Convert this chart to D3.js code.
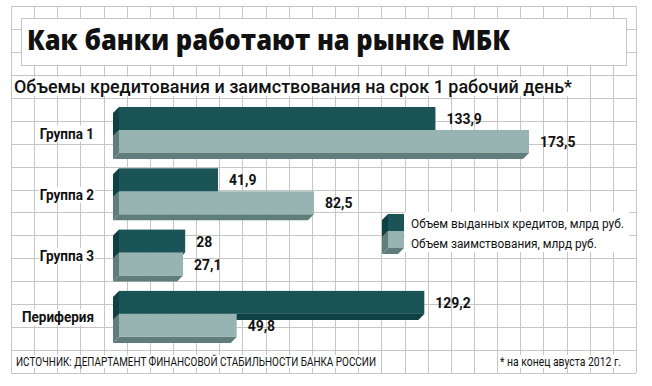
<!DOCTYPE html>
<html>
<head>
<meta charset="utf-8">
<script src="https://cdn.jsdelivr.net/npm/d3@7"></script>
<style>
  body { margin: 0; background: #fff; }
  text { font-family: Roboto, "Open Sans", sans-serif; fill: #111; }
</style>
</head>
<body>
<div id="chart"></div>
<script>
var categories = ["Группа 1", "Группа 2", "Группа 3", "Периферия"];
var issued = [133.9, 41.9, 28, 129.2];      // объем выданных кредитов
var borrowed = [173.5, 82.5, 27.1, 49.8];   // объем заимствования
var seriesNames = ["Объем выданных кредитов, млрд руб.", "Объем заимствования, млрд руб."];
var titleText = "Как банки работают на рынке МБК";
var subtitleText = "Объемы кредитования и заимствования на срок 1 рабочий день*";
var sourceText = "ИСТОЧНИК: ДЕПАРТАМЕНТ ФИНАНСОВОЙ СТАБИЛЬНОСТИ БАНКА РОССИИ";
var noteText = "* на конец авуста 2012 г.";

var width = 652, height = 386;
var colors = [
  {front: "#1a5457", side: "#0f4144"},
  {front: "#97b4b2", side: "#5f7d7b"}
];
var depth = 6, barH = 23;

var svg = d3.select("#chart").append("svg")
    .attr("width", width)
    .attr("height", height);

// grid paper background
var gx = d3.scaleLinear().domain([0, 27]).range([11, 636]);
var gy = d3.scaleLinear().domain([0, 16]).range([6, 373]);
var grid = svg.append("g").attr("stroke", "#c6c6c6").attr("stroke-width", 1);
grid.selectAll("line.v").data(d3.range(28)).enter().append("line")
    .attr("class", "v")
    .attr("x1", function(d){ return Math.round(gx(d)) + 0.5; })
    .attr("x2", function(d){ return Math.round(gx(d)) + 0.5; })
    .attr("y1", gy(0)).attr("y2", gy(16));
grid.selectAll("line.h").data(d3.range(17)).enter().append("line")
    .attr("class", "h")
    .attr("y1", function(d){ return Math.round(gy(d)) + 0.5; })
    .attr("y2", function(d){ return Math.round(gy(d)) + 0.5; })
    .attr("x1", gx(0)).attr("x2", gx(27));

// helpers
function condense(sel, f) {
  sel.each(function(){
    var w = this.getComputedTextLength();
    d3.select(this).attr("textLength", w * f).attr("lengthAdjust", "spacingAndGlyphs");
  });
}
function whiteBack(sel, px, py) {
  sel.each(function(){
    var b = this.getBBox();
    var node = this;
    d3.select(this.parentNode).insert("rect", function(){ return node; })
      .attr("x", b.x - px).attr("y", b.y - py)
      .attr("width", b.width + 2 * px).attr("height", b.height + 2 * py)
      .attr("fill", "#fff");
  });
}
function bar3d(g, x0, x1, y0, h, c) {
  g.append("path")
    .attr("d", "M" + x0 + "," + y0 + "L" + (x0 - depth) + "," + (y0 + depth) +
               "L" + (x0 - depth) + "," + (y0 + h + depth) + "L" + x0 + "," + (y0 + h) + "Z")
    .attr("fill", c.side);
  g.append("path")
    .attr("d", "M" + x0 + "," + (y0 + h) + "L" + (x0 - depth) + "," + (y0 + h + depth) +
               "L" + (x1 - depth) + "," + (y0 + h + depth) + "L" + x1 + "," + (y0 + h) + "Z")
    .attr("fill", c.side);
  g.append("rect")
    .attr("x", x0).attr("y", y0)
    .attr("width", x1 - x0).attr("height", h)
    .attr("fill", c.front);
}

// title box
svg.append("rect")
    .attr("x", 21.5).attr("y", 18.5)
    .attr("width", 605).attr("height", 47)
    .attr("fill", "#fff").attr("stroke", "#c6c6c6");
svg.append("text")
    .attr("x", 27).attr("y", 50)
    .attr("textLength", 483).attr("lengthAdjust", "spacingAndGlyphs")
    .style("font-family", "'Open Sans', Roboto, sans-serif")
    .style("font-weight", 800).style("font-size", "29px")
    .text(titleText);

// subtitle
var sub = svg.append("g");
sub.append("text")
    .attr("x", 14).attr("y", 93)
    .attr("textLength", 558).attr("lengthAdjust", "spacingAndGlyphs")
    .style("font-size", "18px").style("font-weight", 500)
    .text(subtitleText);
whiteBack(sub.select("text"), 1, -1);

// scales
var x = d3.scaleLinear().domain([0, d3.max(borrowed)]).range([119, 529]);
var y = d3.scaleBand().domain(categories).range([107, 107 + 61.3 * categories.length]);
var fmt = function(v){ return String(v).replace(".", ","); };

var rows = categories.map(function(c, i){
  return {cat: c, vals: [issued[i], borrowed[i]]};
});

var groups = svg.selectAll("g.group").data(rows).enter().append("g").attr("class", "group");
groups.each(function(d){
  var g = d3.select(this);
  d.vals.forEach(function(v, k){
    bar3d(g, x(0), x(v), y(d.cat) + k * barH, barH, colors[k]);
  });
});

// value labels
groups.each(function(d){
  var g = d3.select(this);
  d.vals.forEach(function(v, k){
    g.append("text")
      .attr("class", "val")
      .attr("x", x(v) + 11)
      .attr("y", y(d.cat) + k * barH + barH / 2 + 5.5)
      .style("font-size", "15px").style("font-weight", 700)
      .text(fmt(v));
  });
});
condense(svg.selectAll("text.val"), 0.93);

// category labels
var catLab = svg.append("g");
catLab.selectAll("text").data(categories).enter().append("text")
    .attr("x", 94)
    .attr("y", function(d){ return y(d) + barH + 8.5; })
    .attr("text-anchor", "end")
    .style("font-size", "15px").style("font-weight", 700)
    .text(function(d){ return d; });
condense(catLab.selectAll("text"), 0.9);
whiteBack(catLab.selectAll("text"), 1, -1);

// legend
var leg = svg.append("g");
leg.append("rect").attr("x", 405).attr("y", 212).attr("width", 224).attr("height", 40).attr("fill", "#fff");
var legLen = [213, 186];
seriesNames.forEach(function(name, k){
  bar3d(leg, 388, 404, 214 + k * 17, 17, colors[k]);
  var lg = leg.append("g");
  var t = lg.append("text")
    .attr("x", 0).attr("y", 0)
    .style("font-size", "13.5px")
    .text(name);
  var sx = legLen[k] / t.node().getComputedTextLength();
  lg.attr("transform", "translate(411," + (227.5 + k * 20) + ") scale(" + sx + ",1)");
});

// footer
var foot = svg.append("g");
foot.append("text")
    .attr("x", 16).attr("y", 366)
    .attr("textLength", 360).attr("lengthAdjust", "spacingAndGlyphs")
    .style("font-size", "13px")
    .text(sourceText);
foot.append("text")
    .attr("x", 500).attr("y", 366)
    .attr("textLength", 121).attr("lengthAdjust", "spacingAndGlyphs")
    .style("font-size", "13px")
    .text(noteText);
whiteBack(foot.selectAll("text"), 1, -1);
</script>
</body>
</html>
